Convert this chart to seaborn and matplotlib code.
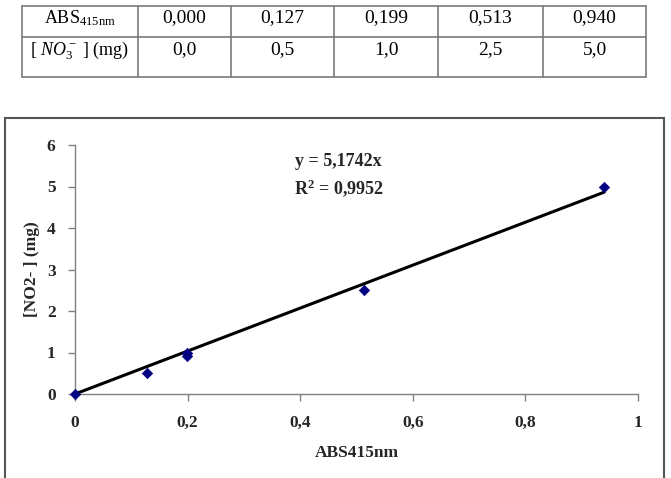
import matplotlib
matplotlib.use("Agg")
import matplotlib.pyplot as plt
from matplotlib.patches import Rectangle
from matplotlib.lines import Line2D
import seaborn as sns
import pandas as pd
import numpy as np

# ---- data ----
table_abs = ["0,000", "0,127", "0,199", "0,513", "0,940"]
table_no3 = ["0,0", "0,5", "1,0", "2,5", "5,0"]
abs_values = [0.0, 0.127, 0.199, 0.199, 0.513, 0.940]
no2_values = [0.0, 0.5, 1.0, 0.91, 2.5, 5.0]
slope = 5.1742
r2_text = "0,9952"
x_ticks = [0, 0.2, 0.4, 0.6, 0.8, 1.0]
x_tick_labels = ["0", "0,2", "0,4", "0,6", "0,8", "1"]
y_ticks = [0, 1, 2, 3, 4, 5, 6]

sns.set_theme(style="white")
plt.rcParams['font.family'] = ['Liberation Serif', 'DejaVu Serif']
plt.rcParams['mathtext.fontset'] = 'custom'
plt.rcParams['mathtext.rm'] = 'Liberation Serif'
plt.rcParams['mathtext.it'] = 'Liberation Serif:italic'
plt.rcParams['mathtext.bf'] = 'Liberation Serif:bold'

W, H = 671, 478
fig = plt.figure(figsize=(W / 100, H / 100), dpi=100)

def fx(px):
    return px / W

def fy(py):
    return 1 - py / H

# ---- table at top ----
col_edges = [22, 138, 231, 334, 438, 543, 646]
row_edges = [6, 37, 77]
tcol = "#7a7a7a"
for xe in col_edges:
    fig.add_artist(Line2D([fx(xe), fx(xe)], [fy(row_edges[0]), fy(row_edges[-1])],
                          color=tcol, lw=1.2))
for ye in row_edges:
    fig.add_artist(Line2D([fx(col_edges[0]), fx(col_edges[-1])], [fy(ye), fy(ye)],
                          color=tcol, lw=1.2))

row1 = [r"ABS$_{\mathrm{415nm}}$"] + table_abs
row2 = [r"[ $\mathit{NO}_3^-$ ] (mg)"] + table_no3
for i in range(6):
    cx = (col_edges[i] + col_edges[i + 1]) / 2
    fs = 13 if i == 0 else 14
    fig.text(fx(cx), fy(18), row1[i], ha="center", va="center", fontsize=fs, color="black")
    fig.text(fx(cx), fy(50), row2[i], ha="center", va="center", fontsize=fs, color="black")

# ---- chart frame ----
fig.add_artist(Rectangle((fx(5), fy(485)), fx(664) - fx(5), fy(118) - fy(485),
                         fill=False, edgecolor="#555555", lw=1.5,
                         transform=fig.transFigure))

# ---- chart ----
ax = fig.add_axes([fx(75), fy(394), fx(638) - fx(75), fy(145) - fy(394)])

df = pd.DataFrame({"ABS": abs_values, "NO2": no2_values})
x_line = np.array([0.0, max(abs_values)])
line_df = pd.DataFrame({"ABS": x_line, "NO2": slope * x_line})

sns.lineplot(data=line_df, x="ABS", y="NO2", ax=ax, color="black", lw=2.2)
sns.scatterplot(data=df, x="ABS", y="NO2", ax=ax, marker="D", s=28,
                color="#000080", edgecolor="#000080", linewidth=0.5,
                clip_on=False, zorder=5)

ax.set_xlim(0, 1)
ax.set_ylim(0, 6)
ax.set_xticks(x_ticks)
ax.set_xticklabels(x_tick_labels)
ax.set_yticks(y_ticks)
ax.set_yticklabels([str(v) for v in y_ticks])

for side in ["top", "right"]:
    ax.spines[side].set_visible(False)
for side in ["left", "bottom"]:
    ax.spines[side].set_color("#808080")
    ax.spines[side].set_linewidth(1.0)

ax.tick_params(axis="both", which="major", direction="out", length=5, width=1,
               color="#808080", labelsize=12.5, bottom=True, left=True)
ax.tick_params(axis="x", pad=10)
ax.tick_params(axis="y", pad=9)
for lab in ax.get_xticklabels() + ax.get_yticklabels():
    lab.set_fontweight("bold")

ax.set_xlabel("ABS415nm", fontsize=12.5, fontweight="bold", labelpad=10)
ax.set_ylabel("[NO2- ] (mg)", fontsize=12.5, fontweight="bold", labelpad=5)

fig.text(fx(295), fy(162), f"y = {str(slope).replace('.', ',')}x", ha="left", va="center",
         fontsize=13, fontweight="bold")
fig.text(fx(294), fy(188), r"R$^{\mathbf{2}}$ = " + r2_text, ha="left", va="center",
         fontsize=13, fontweight="bold")

fig.savefig("out.png", dpi=100)
